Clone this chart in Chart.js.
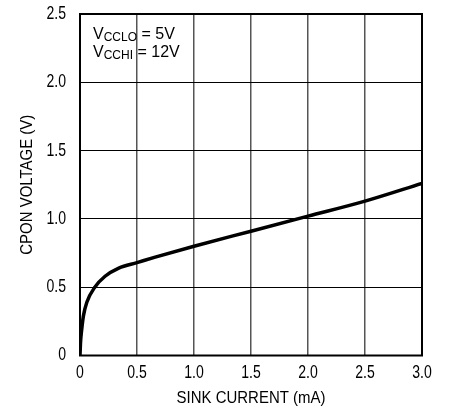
<!DOCTYPE html>
<html>
<head>
<meta charset="utf-8">
<script src="https://cdn.jsdelivr.net/npm/chart.js@4.4.0/dist/chart.umd.min.js"></script>
<style>
  html, body { margin: 0; padding: 0; background: #fff; }
  #wrap { position: relative; width: 451px; height: 414px; }
</style>
</head>
<body>
<div id="wrap"><canvas id="chart"></canvas></div>
<script>
// CPON voltage vs sink current
const sinkCurrent = [0, 0.005, 0.015, 0.03, 0.06, 0.13, 0.22, 0.34, 0.5, 0.66, 1.0, 1.5, 2.0, 2.5, 3.0];
const cponVoltage = [0, 0.1, 0.19, 0.29, 0.39, 0.5, 0.58, 0.64, 0.68, 0.72, 0.80, 0.91, 1.02, 1.13, 1.26];
const xTicks = [0, 0.5, 1.0, 1.5, 2.0, 2.5, 3.0];
const yTicks = [0, 0.5, 1.0, 1.5, 2.0, 2.5];
const xTitle = 'SINK CURRENT (mA)';
const yTitle = 'CPON VOLTAGE (V)';
const noteLines = [['V', 'CCLO', ' = 5V'], ['V', 'CCHI', ' = 12V']];

const FONT = '"Liberation Sans", Arial, Helvetica, sans-serif';

function tickText(v) {
  return v === 0 ? '0' : v.toFixed(1);
}

// text squeezed horizontally to get a condensed face
function drawText(ctx, text, x, y, opts) {
  ctx.save();
  ctx.translate(x, y);
  if (opts.rotate) ctx.rotate(opts.rotate);
  ctx.scale(opts.sx || 1, 1);
  ctx.font = opts.size + 'px ' + FONT;
  ctx.textAlign = opts.align || 'center';
  ctx.textBaseline = 'middle';
  ctx.fillStyle = '#000';
  ctx.fillText(text, 0, 0);
  ctx.restore();
}

// frame, tick labels, axis titles and the supply conditions note
const labelsPlugin = {
  id: 'labels',
  afterDraw(chart) {
    const { ctx, chartArea: a, scales } = chart;
    ctx.save();
    ctx.strokeStyle = '#000';
    ctx.lineWidth = 2;
    ctx.strokeRect(a.left, a.top, a.right - a.left, a.bottom - a.top);
    ctx.restore();

    xTicks.forEach(v => {
      drawText(ctx, tickText(v), scales.x.getPixelForValue(v), a.bottom + 17.5, { size: 18, sx: 0.78 });
    });
    yTicks.forEach(v => {
      drawText(ctx, tickText(v), a.left - 14, scales.y.getPixelForValue(v), { size: 18, sx: 0.78, align: 'right' });
    });

    drawText(ctx, xTitle, (a.left + a.right) / 2, 398, { size: 17, sx: 0.88 });
    drawText(ctx, yTitle, 27, (a.top + a.bottom) / 2, { size: 17, sx: 0.88, rotate: -Math.PI / 2 });

    // note with subscripts
    ctx.save();
    ctx.fillStyle = '#000';
    ctx.textBaseline = 'alphabetic';
    ctx.textAlign = 'left';
    let y = 39;
    noteLines.forEach(parts => {
      let x = a.left + 13;
      ctx.font = '16px ' + FONT;
      ctx.fillText(parts[0], x, y);
      x += ctx.measureText(parts[0]).width;
      ctx.font = '12px ' + FONT;
      ctx.fillText(parts[1], x, y + 2);
      x += ctx.measureText(parts[1]).width;
      ctx.font = '16px ' + FONT;
      ctx.fillText(parts[2], x, y);
      y += 18;
    });
    ctx.restore();
  }
};

new Chart(document.getElementById('chart'), {
  type: 'line',
  data: {
    datasets: [{
      data: sinkCurrent.map((x, i) => ({ x, y: cponVoltage[i] })),
      borderColor: '#000',
      borderWidth: 3.5,
      pointRadius: 0,
      cubicInterpolationMode: 'monotone',
      fill: false
    }]
  },
  options: {
    responsive: true,
    maintainAspectRatio: false,
    animation: false,
    layout: { padding: { top: 14, right: 29, left: 0, bottom: 0 } },
    plugins: { legend: { display: false }, tooltip: { enabled: false } },
    scales: {
      x: {
        type: 'linear',
        min: 0,
        max: 3,
        afterBuildTicks: s => { s.ticks = xTicks.map(v => ({ value: v })); },
        afterFit: s => { s.height = 58.5; },
        ticks: { display: false },
        grid: { color: '#555', lineWidth: 1.5, drawTicks: false },
        border: { display: false }
      },
      y: {
        type: 'linear',
        min: 0,
        max: 2.5,
        afterBuildTicks: s => { s.ticks = yTicks.map(v => ({ value: v })); },
        afterFit: s => { s.width = 80; },
        ticks: { display: false },
        grid: { color: '#000', lineWidth: 1, drawTicks: false },
        border: { display: false }
      }
    }
  },
  plugins: [labelsPlugin]
});
</script>
</body>
</html>
